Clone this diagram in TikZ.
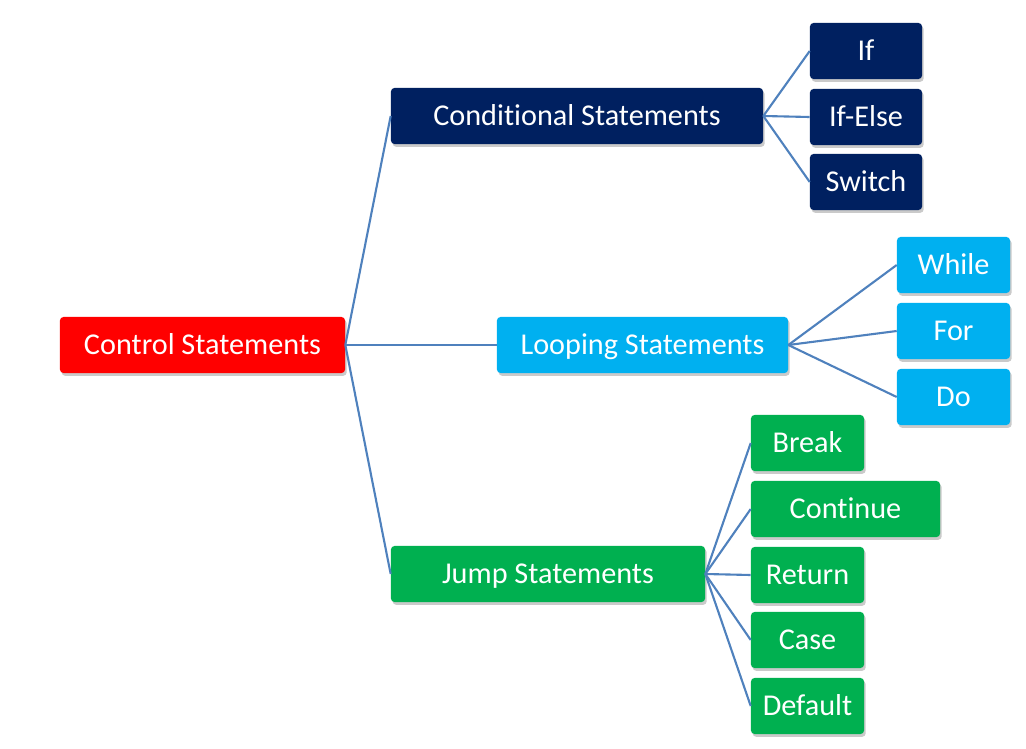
\documentclass[tikz,border=0pt]{standalone}
\usepackage{fontspec}
\setmainfont{Carlito}[Ligatures={NoCommon}]
\usepackage{xcolor}
\usetikzlibrary{shadows}
\definecolor{ctrlred}{RGB}{255,0,0}
\definecolor{condnavy}{RGB}{0,32,96}
\definecolor{loopblue}{RGB}{0,176,240}
\definecolor{jumpgreen}{RGB}{0,176,80}
\definecolor{linkblue}{RGB}{79,129,189}
\tikzset{
  stmt/.style={rectangle, rounded corners=2.5pt, minimum height=1.4cm, inner sep=0pt, text=white,
    text height=13.8pt, text depth=0pt,
    font=\fontsize{21.5}{26}\selectfont, drop shadow={shadow xshift=1.2pt, shadow yshift=-2pt, opacity=0.35, fill=black!60}},
  link/.style={draw=linkblue, line width=1.5pt}
}
\begin{document}
\begin{tikzpicture}[x=0.025cm, y=-0.025cm]
         \useasboundingbox (0,0) rectangle (1026,749);
         \node[stmt, fill=ctrlred, minimum width=7.125cm] (ctrl) at (202.5,345) {Control Statements};
         \node[stmt, fill=condnavy, minimum width=9.3cm] (cond) at (577,116) {Conditional Statements};
         \node[stmt, fill=loopblue, minimum width=7.275cm] (loop) at (642.5,345) {Looping Statements};
         \node[stmt, fill=jumpgreen, minimum width=7.85cm] (jump) at (548,574) {Jump Statements};
         \node[stmt, fill=condnavy, minimum width=2.8cm] (if) at (866,51) {If};
         \node[stmt, fill=condnavy, minimum width=2.8cm] (ifelse) at (866,117) {If-Else};
         \node[stmt, fill=condnavy, minimum width=2.8cm] (switch) at (866,182) {Switch};
         \node[stmt, fill=loopblue, minimum width=2.825cm] (while) at (953.5,265) {While};
         \node[stmt, fill=loopblue, minimum width=2.825cm] (for) at (953.5,331) {For};
         \node[stmt, fill=loopblue, minimum width=2.825cm] (do) at (953.5,397) {Do};
         \node[stmt, fill=jumpgreen, minimum width=2.825cm] (break) at (807.5,443) {Break};
         \node[stmt, fill=jumpgreen, minimum width=4.725cm] (continue) at (845.5,509) {Continue};
         \node[stmt, fill=jumpgreen, minimum width=2.825cm] (return) at (807.5,575) {Return};
         \node[stmt, fill=jumpgreen, minimum width=2.825cm] (case) at (807.5,640) {Case};
         \node[stmt, fill=jumpgreen, minimum width=2.825cm] (default) at (807.5,706) {Default};
         \draw[link] (ctrl.east) -- (cond.west);
         \draw[link] (ctrl.east) -- (loop.west);
         \draw[link] (ctrl.east) -- (jump.west);
         \foreach \leaf in {if, ifelse, switch} \draw[link] (cond.east) -- (\leaf.west);
         \foreach \leaf in {while, for, do} \draw[link] (loop.east) -- (\leaf.west);
         \foreach \leaf in {break, continue, return, case, default} \draw[link] (jump.east) -- (\leaf.west);
       \end{tikzpicture}
\end{document}
